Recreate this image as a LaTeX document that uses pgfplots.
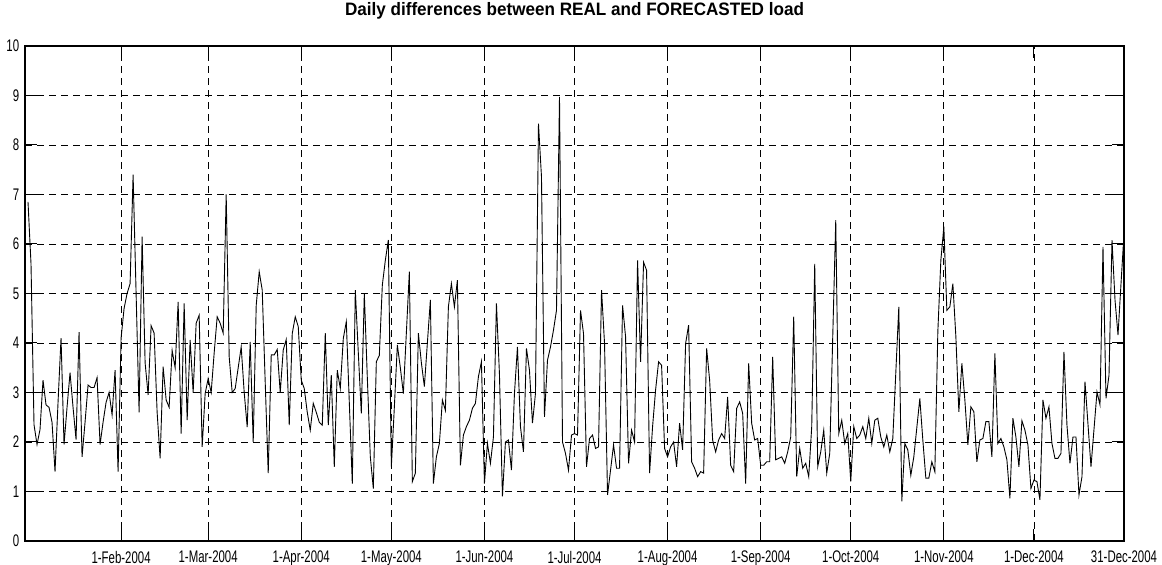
\documentclass[border=0pt]{standalone}
\usepackage{fontspec}
\setmainfont{Liberation Sans}[FakeStretch=0.68]
\newfontfamily\titlefont{Liberation Sans}[FakeStretch=0.95]
\usepackage{pgfplots}
\pgfplotsset{compat=1.18}
\usepackage{pgfplotstable}
\pgfplotstableread{
day val
1 6.85
2 5.6
3 2.35
4 1.95
5 2.25
6 3.25
7 2.75
8 2.7
9 2.4
10 1.4
11 2.8
12 4.1
13 1.95
14 2.7
15 3.4
16 2.7
17 2.05
18 4.22
19 1.7
20 2.4
21 3.15
22 3.1
23 3.1
24 3.3
25 1.95
26 2.4
27 2.8
28 3.0
29 2.55
30 3.45
31 1.4
32 4.1
33 4.7
34 5.0
35 5.2
36 7.4
37 5.0
38 2.6
39 6.15
40 3.6
41 2.95
42 4.35
43 4.2
44 2.6
45 1.67
46 3.52
47 2.85
48 2.7
49 3.85
50 3.5
51 4.83
52 2.17
53 4.8
54 2.44
55 4.06
56 3.0
57 4.4
58 4.56
59 1.9
60 2.98
61 3.28
62 3.0
63 3.8
64 4.53
65 4.4
66 4.2
67 7.0
68 3.72
69 3.0
70 3.08
71 3.5
72 3.92
73 3.0
74 2.3
75 4.02
76 2.0
77 4.76
78 5.44
79 5.07
80 3.2
81 1.37
82 3.76
83 3.76
84 3.87
85 3.0
86 3.86
87 4.07
88 2.34
89 4.19
90 4.53
91 4.33
92 3.25
93 3.08
94 2.6
95 2.24
96 2.78
97 2.6
98 2.4
99 2.34
100 4.2
101 2.34
102 3.35
103 1.5
104 3.45
105 3.08
106 4.09
107 4.43
108 2.8
109 1.16
110 5.07
111 3.8
112 2.58
113 5.0
114 3.3
115 1.7
116 1.06
117 3.62
118 3.75
119 5.17
120 5.67
121 6.08
122 1.5
123 2.7
124 3.96
125 3.5
126 2.98
127 4.2
128 5.44
129 1.2
130 1.37
131 4.2
132 3.6
133 3.12
134 4.0
135 4.87
136 1.16
137 1.7
138 1.97
139 2.85
140 2.64
141 4.73
142 5.2
143 4.73
144 5.27
145 1.53
146 2.14
147 2.31
148 2.44
149 2.68
150 2.78
151 3.32
152 3.62
153 1.16
154 1.97
155 1.57
156 2.1
157 4.8
158 3.38
159 0.9
160 2.0
161 2.04
162 1.43
163 2.98
164 3.92
165 2.31
166 1.8
167 3.89
168 3.45
169 2.38
170 2.98
171 8.43
172 7.36
173 2.51
174 3.65
175 3.92
176 4.26
177 4.66
178 8.97
179 2.0
180 1.77
181 1.43
182 2.14
183 2.17
184 2.14
185 4.66
186 4.19
187 1.5
188 2.07
189 2.14
190 1.87
191 1.9
192 5.07
193 3.99
194 0.93
195 1.43
196 1.94
197 1.47
198 1.47
199 4.76
200 4.13
201 1.57
202 2.24
203 2.0
204 5.67
205 3.62
206 5.63
207 5.47
208 1.37
209 2.31
210 3.05
211 3.62
212 3.55
213 1.87
214 1.7
215 1.9
216 2.0
217 1.5
218 2.38
219 1.84
220 3.99
221 4.36
222 1.6
223 1.47
224 1.3
225 1.4
226 1.37
227 3.89
228 3.25
229 2.04
230 1.8
231 2.04
232 2.17
233 2.07
234 2.91
235 1.53
236 1.4
237 2.68
238 2.81
239 2.58
240 1.16
241 3.59
242 2.38
243 2.04
244 2.07
245 1.53
246 1.53
247 1.6
248 1.6
249 3.72
250 1.64
251 1.67
252 1.7
253 1.57
254 1.8
255 2.1
256 4.53
257 1.3
258 1.87
259 1.47
260 1.57
261 1.3
262 2.31
263 5.6
264 1.5
265 1.8
266 2.24
267 1.37
268 1.77
269 4.13
270 6.48
271 2.17
272 2.44
273 1.97
274 2.17
275 1.2
276 2.31
277 2.07
278 2.14
279 2.31
280 2.07
281 2.48
282 1.97
283 2.44
284 2.48
285 2.1
286 1.9
287 2.14
288 1.8
289 2.07
291 4.73
292 0.8
293 1.97
294 1.84
295 1.33
296 1.7
298 2.88
299 2.04
300 1.27
301 1.27
302 1.6
303 1.4
304 4.23
305 5.67
306 6.35
307 4.66
308 4.73
309 5.2
310 4.13
311 2.61
312 3.59
313 2.85
314 1.94
315 2.71
316 2.61
317 1.6
318 2.04
319 2.07
320 2.41
321 2.41
322 1.7
323 3.79
324 1.97
325 2.07
326 1.9
327 1.64
328 0.86
329 2.48
330 2.1
331 1.5
332 2.43
333 2.24
334 1.94
335 1.06
336 1.23
337 1.2
338 0.83
339 2.85
340 2.48
341 2.71
342 1.97
343 1.67
344 1.67
345 1.77
346 3.82
347 2.34
348 1.57
349 2.1
350 2.1
351 0.93
352 1.3
353 3.22
355 1.5
357 3.01
358 2.75
359 5.94
360 2.88
361 3.35
362 6.08
363 4.87
364 4.16
365 5.2
366 6.21
}\loaddata

\begin{document}
\begin{tikzpicture}
\begin{axis}[
  name=ax,
  scale only axis,
  width=549.5pt, height=247.5pt,
  xmin=0, xmax=366, ymin=0, ymax=10,
  xtick={32,61,92,122,153,183,214,245,275,306,336,366},
  xticklabels={1-Feb-2004,1-Mar-2004,1-Apr-2004,1-May-2004,1-Jun-2004,1-Jul-2004,1-Aug-2004,1-Sep-2004,1-Oct-2004,1-Nov-2004,1-Dec-2004,31-Dec-2004},
  ytick={0,1,...,10},
  grid=major,
  major grid style={black, line width=0.4pt, dash pattern=on 3.5pt off 2.5pt},
  axis line style={line width=0.8pt},
  tick align=inside,
  major tick length=6pt,
  tick style={black, line width=0.5pt},
  ticklabel style={font=\fontsize{8.4}{10}\selectfont},
  /pgf/number format/assume math mode=true,
  xticklabel style={yshift=-1.5pt},
  yticklabel style={xshift=0.6pt},
  title={Daily differences between REAL and FORECASTED load},
  title style={at={(0.5,1)}, anchor=base, yshift=9pt, font=\titlefont\bfseries\fontsize{9}{11}\selectfont},
]
\addplot[black, line width=0.45pt] table[x=day,y=val]{\loaddata};
\end{axis}
\pgfresetboundingbox
\useasboundingbox ([xshift=-12.5pt,yshift=-12pt]ax.south west) rectangle ([xshift=19pt,yshift=23pt]ax.north east);
\end{tikzpicture}
\end{document}
